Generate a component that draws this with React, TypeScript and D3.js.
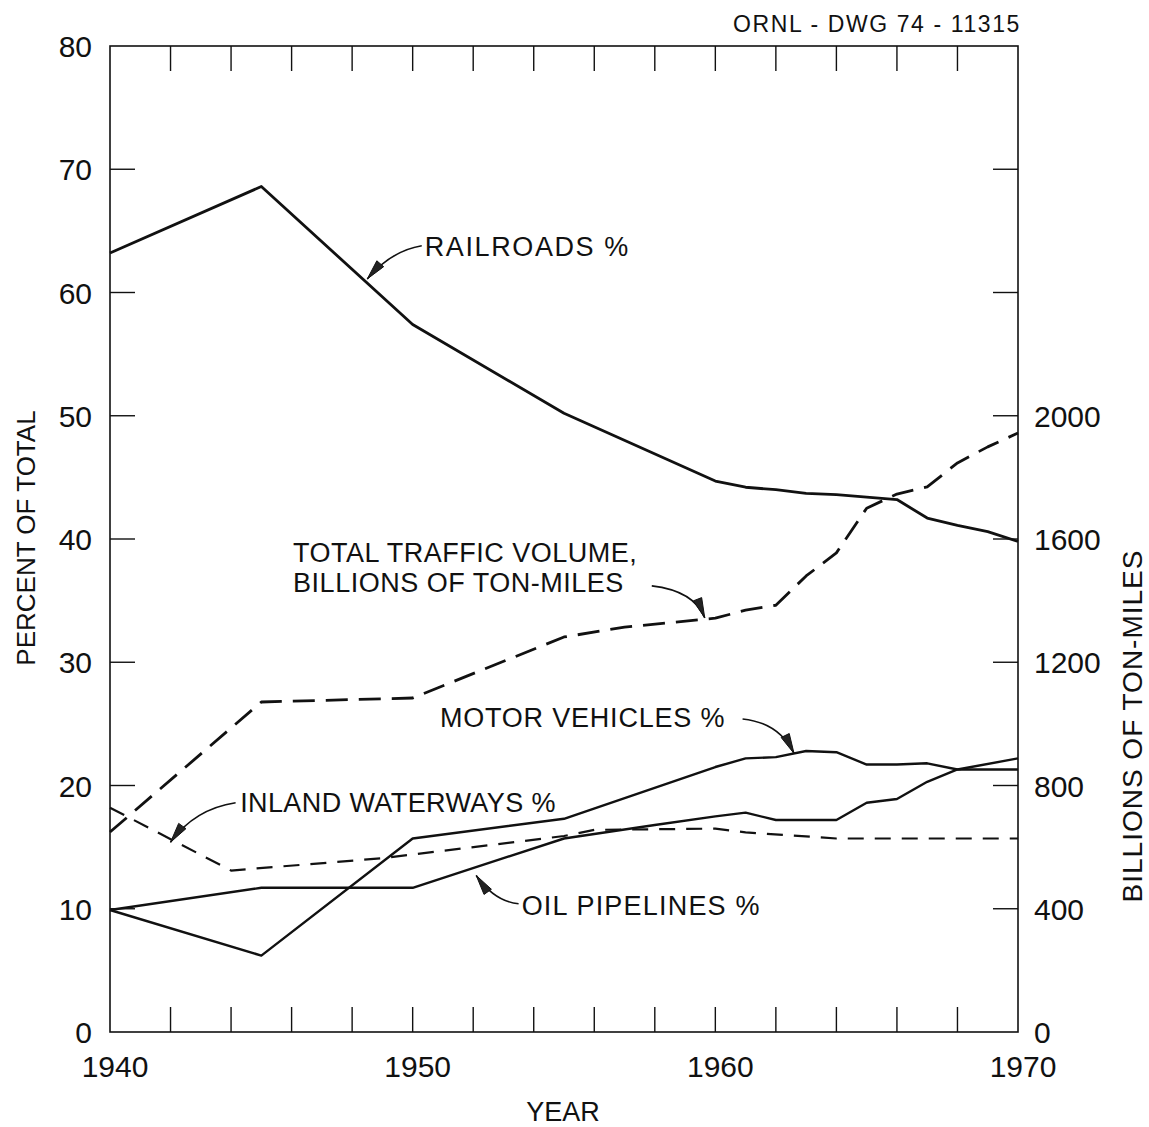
import React, { useEffect, useRef } from 'react';
import * as d3 from 'd3';

// Railroads share of intercity freight (%)
const railYears = [1940, 1945, 1950, 1955, 1960, 1961, 1962, 1963, 1964, 1965, 1966, 1967, 1968, 1969, 1970];
const railroads = [63.2, 68.6, 57.4, 50.2, 44.7, 44.2, 44.0, 43.7, 43.6, 43.4, 43.2, 41.7, 41.1, 40.6, 39.8];

// Total traffic volume, billions of ton-miles (right axis)
const volYears = [1940, 1945, 1950, 1955, 1957, 1960, 1961, 1962, 1963, 1964, 1965, 1966, 1967, 1968, 1969, 1970];
const totalVolume = [649, 1071, 1084, 1282, 1314, 1343, 1369, 1385, 1480, 1555, 1700, 1746, 1769, 1847, 1899, 1944];

// Motor vehicles (%)
const motorYears = [1940, 1945, 1950, 1955, 1960, 1961, 1962, 1963, 1964, 1965, 1966, 1967, 1968, 1969, 1970];
const motorVehicles = [9.9, 6.2, 15.7, 17.3, 21.5, 22.2, 22.3, 22.8, 22.7, 21.7, 21.7, 21.8, 21.3, 21.3, 21.3];

// Oil pipelines (%)
const oilYears = [1940, 1945, 1950, 1955, 1958, 1960, 1961, 1962, 1964, 1965, 1966, 1967, 1968, 1970];
const oilPipelines = [9.9, 11.7, 11.7, 15.7, 16.8, 17.5, 17.8, 17.2, 17.2, 18.6, 18.9, 20.3, 21.3, 22.2];

// Inland waterways (%)
const waterYears = [1940, 1944, 1949, 1950, 1955, 1956, 1960, 1961, 1964, 1970];
const inlandWaterways = [18.2, 13.1, 14.1, 14.4, 15.9, 16.4, 16.5, 16.2, 15.7, 15.7];

const leftTicks = [0, 10, 20, 30, 40, 50, 60, 70, 80];
const rightTicks = [0, 400, 800, 1200, 1600, 2000];
const yearLabels = [1940, 1950, 1960, 1970];

// label text, text anchor (year, pct), arrow start (year, pct), control, tip
const notes = [
  { lines: ['RAILROADS %'], ls: 1.6, at: [1950.4, 63.0], from: [1950.3, 63.8], ctrl: [1949.3, 63.4], tip: [1948.5, 61.1] },
  { lines: ['TOTAL TRAFFIC VOLUME,', 'BILLIONS OF TON-MILES'], ls: 0.5, at: [1946.05, 38.1], from: [1957.9, 36.2], ctrl: [1959.3, 35.8], tip: [1959.65, 33.6] },
  { lines: ['MOTOR VEHICLES %'], ls: 0.8, at: [1950.9, 24.75], from: [1960.9, 25.4], ctrl: [1962.1, 25.1], tip: [1962.6, 22.6] },
  { lines: ['INLAND WATERWAYS %'], ls: 0.4, at: [1944.3, 17.85], from: [1944.15, 18.6], ctrl: [1942.8, 18.1], tip: [1942.0, 15.4] },
  { lines: ['OIL PIPELINES %'], ls: 1.2, at: [1953.6, 9.5], from: [1953.5, 10.4], ctrl: [1952.7, 10.6], tip: [1952.1, 12.7] },
];

const FONT = '"Liberation Sans", Arial, sans-serif';

const App: React.FC = () => {
  const ref = useRef<SVGSVGElement | null>(null);

  useEffect(() => {
    if (!ref.current) return;
    const svg = d3.select(ref.current);
    svg.selectAll('*').remove();

    const x = d3.scaleLinear().domain([1940, 1970]).range([110, 1018]);
    const y = d3.scaleLinear().domain([0, 80]).range([1032, 46]);
    const yR = d3.scaleLinear().domain([0, 3200]).range([1032, 46]);
    const tickLen = 25;

    // frame
    svg.append('rect')
      .attr('x', x(1940)).attr('y', y(80))
      .attr('width', x(1970) - x(1940)).attr('height', y(0) - y(80))
      .attr('fill', 'none').attr('stroke', '#111').attr('stroke-width', 1.6);

    const g = svg.append('g').attr('stroke', '#111').attr('stroke-width', 1.4);
    d3.range(1942, 1970, 2).forEach(yr => {
      g.append('line').attr('x1', x(yr)).attr('x2', x(yr)).attr('y1', y(0)).attr('y2', y(0) - tickLen);
      g.append('line').attr('x1', x(yr)).attr('x2', x(yr)).attr('y1', y(80)).attr('y2', y(80) + tickLen);
    });
    leftTicks.slice(1, -1).forEach(v => {
      g.append('line').attr('x1', x(1940)).attr('x2', x(1940) + tickLen).attr('y1', y(v)).attr('y2', y(v));
      g.append('line').attr('x1', x(1970)).attr('x2', x(1970) - tickLen).attr('y1', y(v)).attr('y2', y(v));
    });

    const txt = svg.append('g').attr('font-family', FONT).attr('fill', '#111');

    leftTicks.forEach(v => {
      txt.append('text').attr('x', 92).attr('y', y(v) + 11)
        .attr('text-anchor', 'end').attr('font-size', 30).text(v);
    });
    rightTicks.forEach(v => {
      txt.append('text').attr('x', 1034).attr('y', yR(v) + 11)
        .attr('text-anchor', 'start').attr('font-size', 30).text(v);
    });
    yearLabels.forEach(v => {
      txt.append('text').attr('x', x(v) + 5).attr('y', 1077)
        .attr('text-anchor', 'middle').attr('font-size', 30).text(v);
    });

    txt.append('text').attr('x', 563).attr('y', 1121).attr('text-anchor', 'middle')
      .attr('font-size', 27).text('YEAR');
    txt.append('text').attr('transform', 'translate(35,538) rotate(-90)')
      .attr('text-anchor', 'middle').attr('font-size', 26).text('PERCENT OF TOTAL');
    txt.append('text').attr('transform', 'translate(1142,726) rotate(-90)')
      .attr('text-anchor', 'middle').attr('font-size', 28).attr('letter-spacing', 1).text('BILLIONS OF TON-MILES');
    txt.append('text').attr('x', 733).attr('y', 32).attr('font-size', 23)
      .attr('letter-spacing', 1.6).text('ORNL - DWG  74 - 11315');

    // series
    const pctLine = (years: number[], vals: number[]) =>
      d3.line<number>().x((_, i) => x(years[i])).y(d => y(d))(vals);

    const series = svg.append('g').attr('fill', 'none').attr('stroke', '#111')
      .attr('stroke-linejoin', 'round');

    series.append('path').attr('d', pctLine(railYears, railroads)).attr('stroke-width', 2.8);
    series.append('path').attr('d', pctLine(motorYears, motorVehicles)).attr('stroke-width', 2.4);
    series.append('path').attr('d', pctLine(oilYears, oilPipelines)).attr('stroke-width', 2.4);
    series.append('path').attr('d', pctLine(waterYears, inlandWaterways))
      .attr('stroke-width', 2.2).attr('stroke-dasharray', '16 11');
    series.append('path')
      .attr('d', d3.line<number>().x((_, i) => x(volYears[i])).y(d => yR(d))(totalVolume))
      .attr('stroke-width', 2.8).attr('stroke-dasharray', '22 11');

    // annotations
    const ann = svg.append('g');
    notes.forEach(n => {
      n.lines.forEach((l, i) => {
        ann.append('text').attr('x', x(n.at[0])).attr('y', y(n.at[1]) + i * 30)
          .attr('font-family', FONT).attr('font-size', 27).attr('letter-spacing', n.ls)
          .attr('fill', '#111').text(l);
      });
      const p0 = [x(n.from[0]), y(n.from[1])];
      const c = [x(n.ctrl[0]), y(n.ctrl[1])];
      const t = [x(n.tip[0]), y(n.tip[1])];
      const p = d3.path();
      p.moveTo(p0[0], p0[1]);
      p.quadraticCurveTo(c[0], c[1], t[0], t[1]);
      ann.append('path').attr('d', p.toString()).attr('fill', 'none')
        .attr('stroke', '#111').attr('stroke-width', 1.6);
      const dx = t[0] - c[0], dy = t[1] - c[1];
      const len = Math.hypot(dx, dy);
      const ux = dx / len, uy = dy / len;
      const hl = 20, hw = 4.5;
      const bx = t[0] - ux * hl, by = t[1] - uy * hl;
      ann.append('path')
        .attr('d', `M${t[0]},${t[1]}L${bx - uy * hw},${by + ux * hw}L${bx + uy * hw},${by - ux * hw}Z`)
        .attr('fill', '#222').attr('stroke', '#111').attr('stroke-width', 1);
    });
  }, []);

  return (
    <div style={{ position: 'absolute', left: 0, top: 0, width: 1149, height: 1127, background: '#fff' }}>
      <svg ref={ref} width={1149} height={1127} />
    </div>
  );
};

export default App;
